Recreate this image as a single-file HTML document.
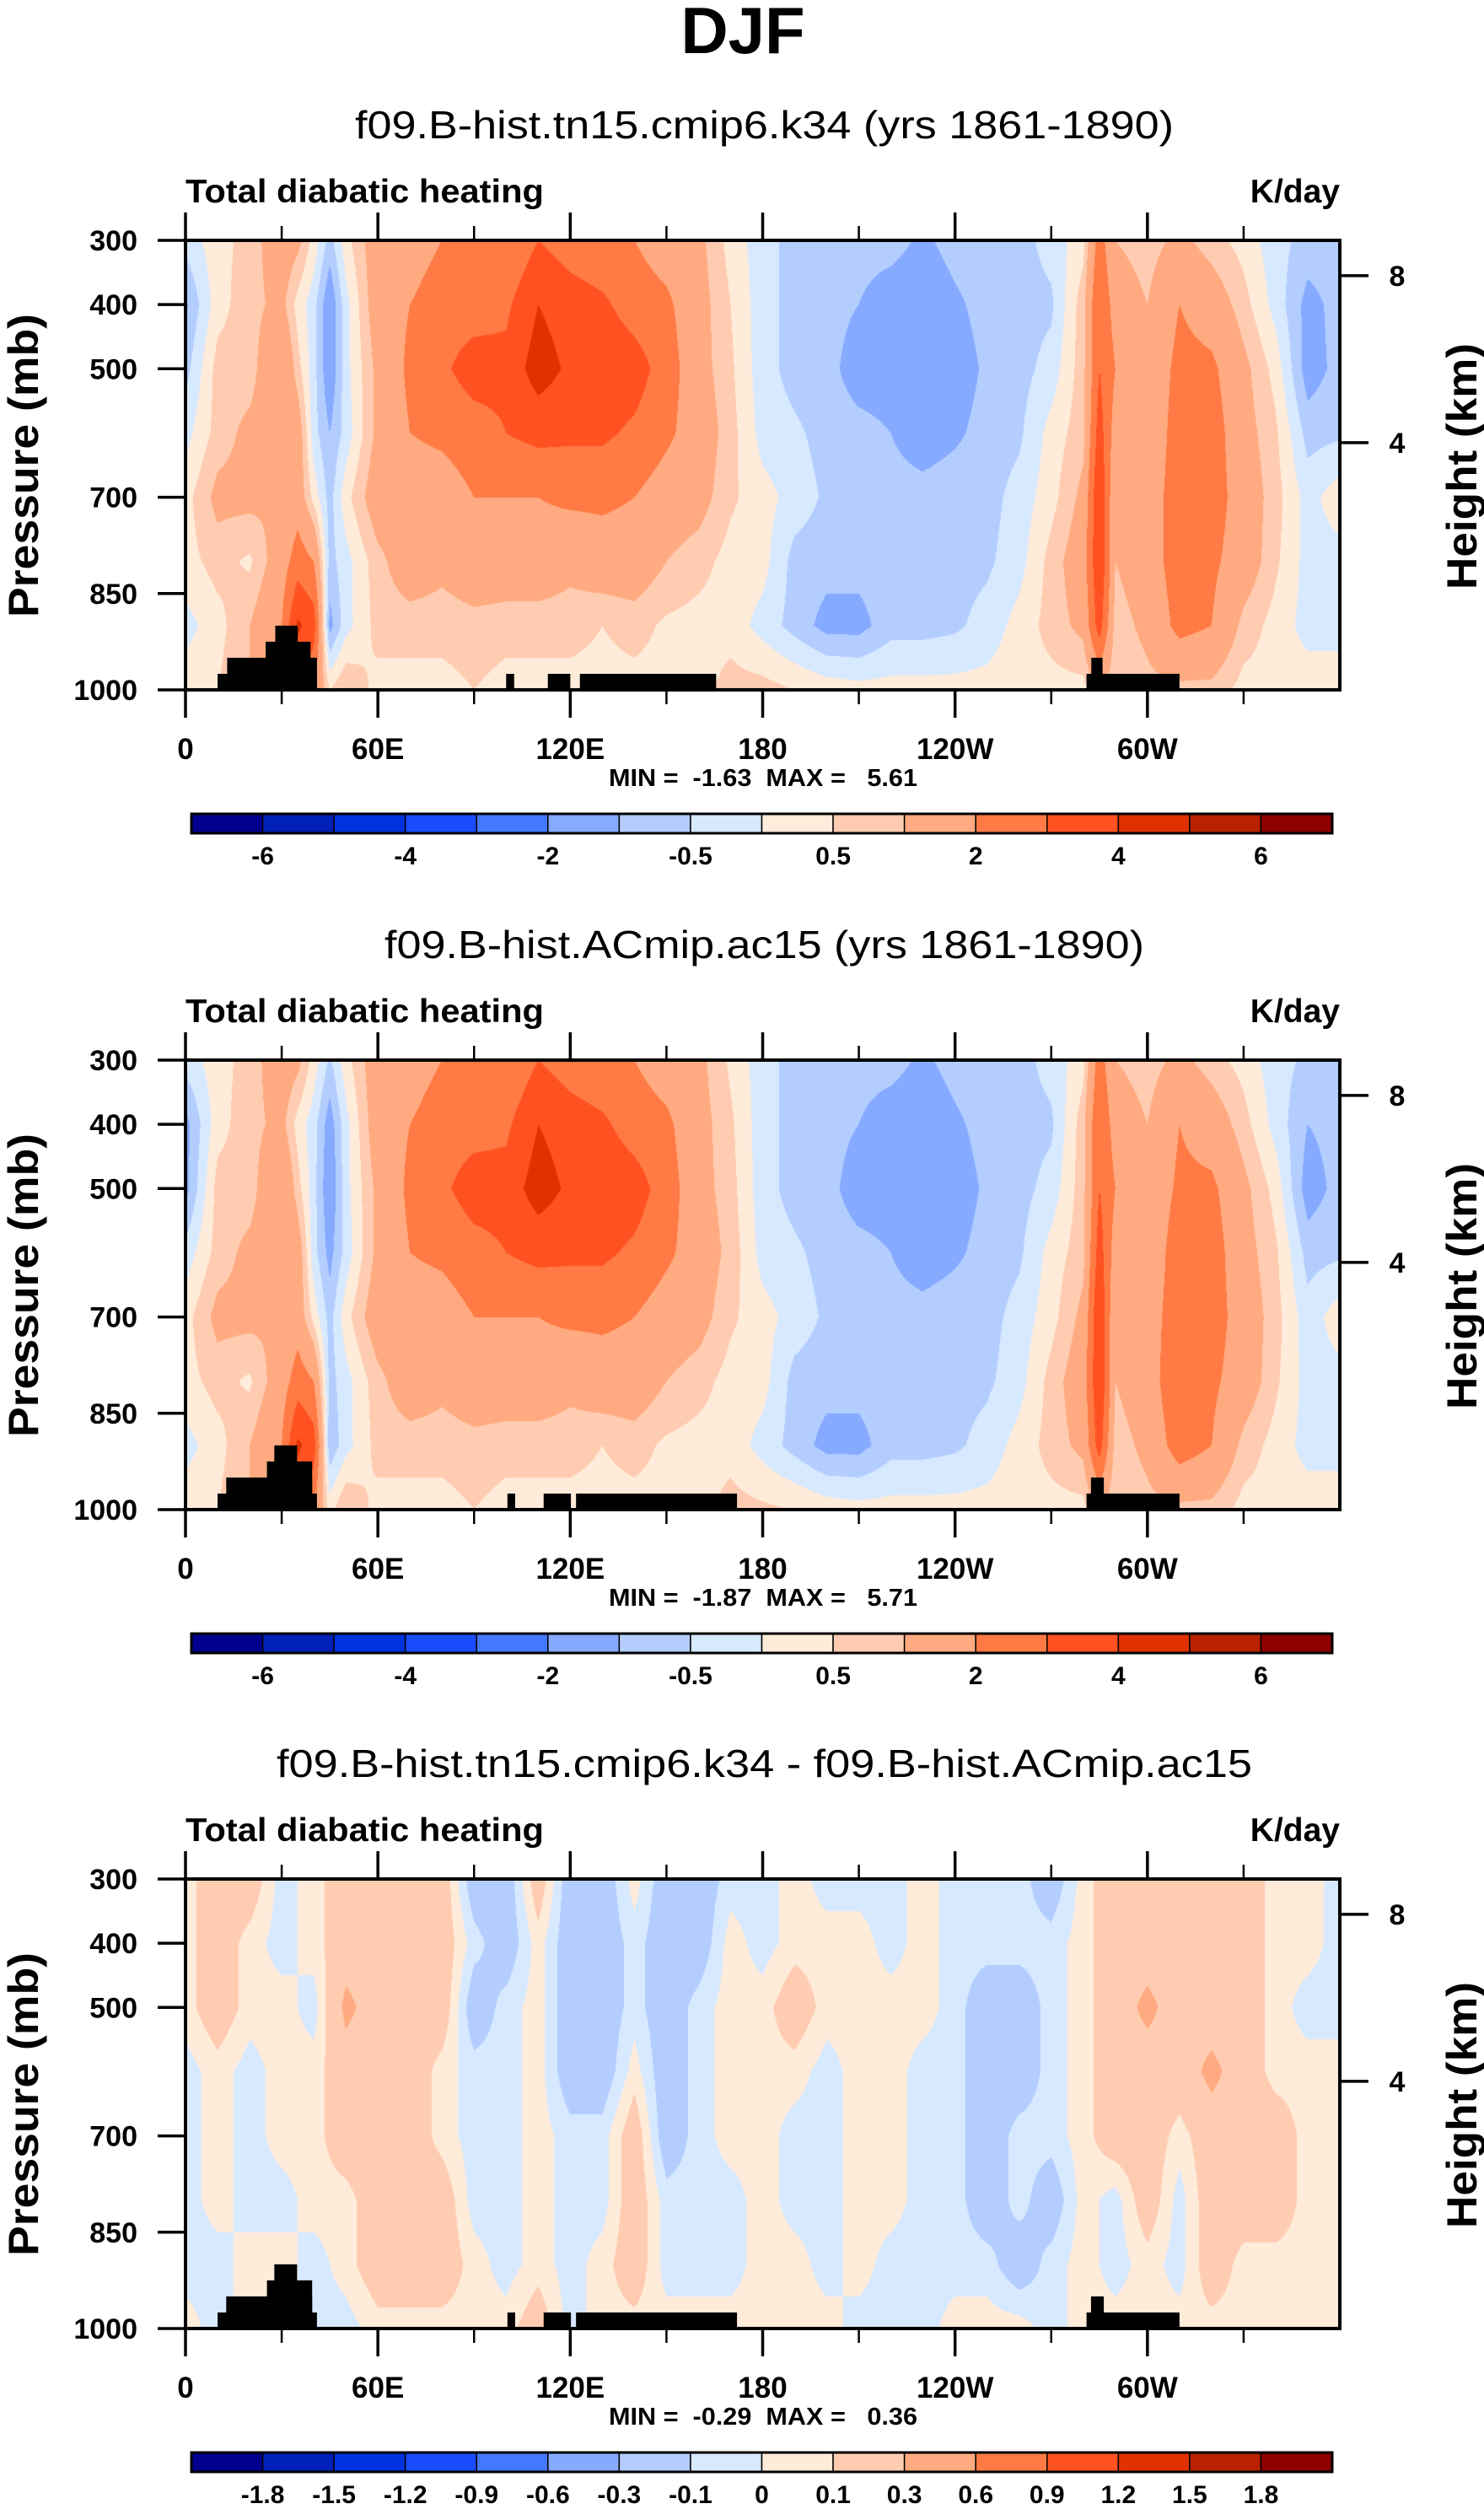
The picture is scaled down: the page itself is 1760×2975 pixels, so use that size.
<!DOCTYPE html>
<html><head><meta charset="utf-8">
<style>
html,body{margin:0;padding:0;background:#fff;}
#root{position:relative;width:1760px;height:2975px;overflow:hidden;background:#fff;}
canvas{position:absolute;}
svg{position:absolute;left:0;top:0;}
text{font-family:"Liberation Sans",Arial,sans-serif;fill:#000;}
</style></head>
<body>
<div id="root">
<canvas id="c0"></canvas>
<canvas id="c1"></canvas>
<canvas id="c2"></canvas>
<svg id="ov" width="1760" height="2975"></svg>
</div>
<script>
// ---------- data ----------
const presLevels = [300,400,500,600,700,800,900,1000];
const lons1 = [0,10,20,30,35,40,45,50,60,70,80,90,100,110,120,130,140,150,160,170,180,190,200,210,220,230,240,250,260,270,280,285,290,300,310,320,330,340,350,360];
const field1 = [
[-0.3,-1.1,-0.7,-0.2,0.3,0.3,-0.2,0.3],
[0.3,0.3,0.7,0.7,1.2,0.7,0.3,0.5],
[0.7,0.8,0.7,1.2,1.2,0.4,1.0,1.0],
[1.5,1.2,2.0,1.5,1.0,1.5,2.0,2.0],
[1.2,0.3,0.7,1.5,1.5,2.5,4.2,3.0],
[0.3,-0.3,-0.3,-0.3,0.3,2.0,3.5,2.0],
[-0.7,-1.5,-1.5,-1.0,-0.7,-0.7,-1.2,0.5],
[0.3,-0.2,-0.2,-0.3,0.3,-0.2,-0.2,1.0],
[1.5,1.5,1.2,1.2,1.5,0.8,0.7,0.3],
[1.5,2.0,2.2,2.0,1.5,1.5,0.7,0.3],
[2.0,2.5,2.8,2.2,1.5,1.2,0.7,0.3],
[2.2,2.5,3.5,2.5,2.0,1.5,0.8,0.5],
[2.0,2.8,3.3,3.0,2.0,1.5,0.7,0.3],
[3.0,4.0,4.5,3.3,2.0,1.5,0.7,0.3],
[2.5,3.5,3.8,3.2,2.2,1.2,0.7,0.3],
[2.2,3.2,3.8,3.2,2.2,1.5,0.5,0.3],
[2.0,2.5,3.5,2.8,2.0,1.5,0.7,0.3],
[1.5,2.2,2.5,2.2,1.5,1.0,0.4,0.3],
[1.2,1.3,1.3,1.5,1.3,0.7,0.3,0.3],
[0.3,0.5,0.6,0.7,0.6,0.3,0.3,0.7],
[-0.3,-0.3,-0.3,-0.2,0.2,0.2,-0.2,0.7],
[-0.7,-0.7,-0.7,-0.4,-0.2,-0.7,-0.7,0.5],
[-0.7,-0.8,-0.8,-0.7,-0.6,-0.8,-1.2,0.3],
[-0.8,-1.0,-1.3,-0.8,-0.7,-0.8,-1.2,0.2],
[-0.8,-1.3,-1.3,-1.0,-0.8,-0.7,-0.7,0.2],
[-1.1,-1.4,-1.5,-1.3,-0.8,-0.7,-0.7,0.2],
[-0.8,-1.1,-1.3,-1.1,-0.7,-0.7,-0.6,0.2],
[-0.7,-0.8,-0.9,-0.8,-0.7,-0.6,-0.3,0.2],
[-0.7,-0.7,-0.7,-0.6,-0.3,-0.2,0.2,0.3],
[-0.3,-0.6,-0.3,0.2,0.3,0.7,0.7,0.3],
[0.3,0.8,0.8,0.8,1.2,1.5,1.2,0.3],
[2.5,3.0,3.0,3.5,4.0,4.0,3.5,1.0],
[1.0,1.5,2.0,1.5,1.0,1.0,0.7,0.5],
[0.7,1.0,1.2,1.2,1.5,1.5,1.2,0.8],
[1.2,2.0,2.3,2.5,2.5,2.5,2.3,0.8],
[0.7,1.5,2.2,2.5,2.5,2.2,2.0,0.8],
[0.3,0.7,1.2,1.3,1.5,1.5,0.8,0.3],
[-0.3,-0.2,0.3,0.6,0.7,0.6,0.3,0.3],
[-0.7,-1.2,-1.3,-0.7,-0.2,-0.2,-0.2,0.3],
[-0.7,-0.8,-0.8,-0.6,0.3,-0.2,-0.2,0.3]
];
const lons2 = lons1;
const field2 = [
[-0.3,-1.2,-1.2,-0.3,0.3,0.3,-0.2,0.3],
[0.3,0.3,0.7,0.7,1.2,0.7,0.3,0.5],
[0.7,0.8,0.7,1.2,1.2,0.4,1.0,1.0],
[1.5,1.2,2.0,1.5,1.0,1.5,2.0,2.0],
[1.2,0.3,0.7,1.5,1.5,2.5,4.2,3.0],
[0.3,-0.3,-0.3,-0.3,0.3,2.0,3.5,2.0],
[-0.6,-1.3,-1.5,-1.2,-0.7,-0.7,-0.9,0.3],
[0.3,-0.2,-0.2,-0.3,0.3,-0.2,-0.2,1.0],
[1.5,1.5,1.2,1.2,1.5,0.8,0.7,0.3],
[1.5,2.0,2.2,2.0,1.5,1.5,0.7,0.3],
[2.0,2.5,2.8,2.2,1.5,1.2,0.7,0.3],
[2.2,2.6,3.5,2.6,2.0,1.5,0.8,0.5],
[2.0,2.8,3.4,3.0,2.0,1.5,0.7,0.3],
[3.0,4.0,4.5,3.3,2.0,1.5,0.7,0.3],
[2.5,3.5,3.8,3.2,2.2,1.2,0.7,0.3],
[2.2,3.2,3.8,3.2,2.2,1.5,0.5,0.3],
[2.0,2.5,3.5,2.8,2.0,1.5,0.7,0.3],
[1.5,2.2,2.5,2.2,1.5,1.0,0.4,0.3],
[1.2,1.3,1.3,1.5,1.3,0.7,0.3,0.3],
[0.4,0.6,0.7,0.8,0.6,0.3,0.3,0.7],
[-0.3,-0.3,-0.3,-0.2,0.2,0.2,-0.2,0.6],
[-0.7,-0.7,-0.7,-0.4,-0.2,-0.7,-0.7,0.5],
[-0.7,-0.8,-0.8,-0.7,-0.6,-0.8,-1.2,0.3],
[-0.8,-1.0,-1.3,-0.8,-0.7,-0.8,-1.2,0.2],
[-0.8,-1.3,-1.3,-1.0,-0.8,-0.7,-0.7,0.2],
[-1.1,-1.4,-1.5,-1.3,-0.8,-0.7,-0.7,0.2],
[-0.8,-1.1,-1.3,-1.1,-0.7,-0.7,-0.6,0.2],
[-0.7,-0.8,-0.9,-0.8,-0.7,-0.6,-0.3,0.2],
[-0.7,-0.7,-0.7,-0.6,-0.3,-0.2,0.2,0.3],
[-0.3,-0.6,-0.3,0.2,0.3,0.7,0.7,0.3],
[0.3,0.8,0.8,0.8,1.2,1.5,1.2,0.3],
[2.5,3.0,3.0,3.5,4.0,4.0,3.5,1.0],
[1.0,1.5,2.0,1.5,1.0,1.0,0.7,0.5],
[0.7,1.0,1.2,1.2,1.5,1.5,1.2,0.8],
[1.2,2.0,2.2,2.6,2.6,2.8,2.5,0.8],
[0.7,1.5,2.2,2.5,2.5,2.2,2.0,0.8],
[0.3,0.7,1.2,1.3,1.5,1.5,0.8,0.3],
[-0.3,-0.2,0.3,0.6,0.7,0.6,0.3,0.3],
[-0.6,-1.0,-1.3,-0.7,-0.3,-0.2,-0.2,0.3],
[-0.7,-0.8,-0.8,-0.6,0.3,-0.2,-0.2,0.3]
];
const lons3 = [0,10,20,30,40,50,60,70,80,90,100,110,120,130,140,150,160,170,180,190,200,210,220,230,240,250,260,270,280,290,300,310,320,330,340,350,360];
const field3 = [
[0.05,0.05,0.05,-0.05,-0.05,-0.05,-0.05,0.05],
[0.2,0.2,0.2,0.05,0.05,0.05,-0.05,-0.05],
[0.2,0.05,0.05,-0.05,-0.05,-0.05,0.05,0.05],
[-0.05,-0.05,0.05,0.05,0.05,-0.05,0.05,0.05],
[0.05,0.05,-0.05,0.05,0.05,0.05,-0.05,-0.05],
[0.2,0.2,0.35,0.2,0.2,0.05,0.05,-0.05],
[0.2,0.2,0.2,0.2,0.2,0.2,0.2,0.05],
[0.2,0.2,0.2,0.2,0.2,0.2,0.2,0.05],
[0.2,0.2,0.2,0.05,0.05,0.2,0.2,0.05],
[-0.2,-0.05,-0.2,-0.05,-0.05,-0.05,0.05,0.05],
[-0.2,-0.2,-0.05,-0.05,-0.05,-0.05,-0.05,0.05],
[0.2,0.05,0.05,0.05,0.05,0.05,0.05,0.2],
[-0.2,-0.2,-0.2,-0.2,-0.05,-0.05,-0.05,-0.05],
[-0.2,-0.2,-0.2,-0.2,-0.05,-0.05,0.05,0.05],
[0.05,-0.05,-0.05,0.05,0.2,0.2,0.2,0.05],
[-0.2,-0.2,-0.2,-0.2,-0.2,-0.05,-0.05,0.05],
[-0.2,-0.2,-0.05,-0.05,-0.05,-0.05,-0.05,0.05],
[-0.05,0.05,0.05,0.05,0.05,-0.05,-0.05,0.05],
[-0.05,-0.05,0.05,0.05,0.05,0.05,0.05,0.05],
[0.05,0.05,0.2,0.05,-0.05,-0.05,0.05,0.05],
[-0.05,0.05,0.05,-0.05,-0.05,-0.05,-0.05,0.05],
[-0.05,0.05,0.05,0.05,0.05,0.05,0.05,-0.05],
[-0.05,-0.05,0.05,0.05,0.05,0.05,-0.05,-0.05],
[0.05,0.05,0.05,-0.05,-0.05,-0.05,-0.05,-0.05],
[-0.05,-0.05,-0.05,-0.05,-0.05,-0.05,-0.05,0.05],
[-0.05,-0.05,-0.2,-0.2,-0.2,-0.2,-0.05,0.05],
[-0.05,-0.05,-0.2,-0.2,-0.05,-0.05,-0.2,0.05],
[-0.2,-0.05,-0.05,-0.05,-0.05,-0.2,-0.05,-0.05],
[0.05,0.05,0.05,0.05,0.05,0.05,0.05,0.05],
[0.2,0.2,0.2,0.2,0.2,-0.05,-0.05,0.05],
[0.2,0.2,0.35,0.2,0.2,0.2,0.05,0.05],
[0.2,0.2,0.2,0.2,0.05,-0.05,-0.05,0.05],
[0.2,0.2,0.2,0.35,0.2,0.2,0.2,0.05],
[0.2,0.2,0.2,0.2,0.2,0.2,0.05,0.05],
[0.05,0.05,0.05,0.05,0.2,0.2,0.05,0.05],
[0.05,0.05,-0.05,0.05,0.05,0.05,0.05,0.05],
[-0.05,-0.05,-0.05,0.05,0.05,0.05,0.05,0.05]
];
const levelsAbs = [-6,-5,-4,-3,-2,-1,-0.5,0,0.5,1,2,3,4,5,6];
const labelsAbs = ["-6","-4","-2","-0.5","0.5","2","4","6"];
const labelIdxAbs = [0,2,4,6,8,10,12,14];
const levelsDiff = [-1.8,-1.5,-1.2,-0.9,-0.6,-0.3,-0.1,0,0.1,0.3,0.6,0.9,1.2,1.5,1.8];
const labelsDiff = ["-1.8","-1.5","-1.2","-0.9","-0.6","-0.3","-0.1","0","0.1","0.3","0.6","0.9","1.2","1.5","1.8"];
const labelIdxDiff = [0,1,2,3,4,5,6,7,8,9,10,11,12,13,14];
const colors = ['#00008C','#0020B8','#0032E0','#1A4CFF','#4478FF','#85AAFF','#B3CDFF','#D7E9FF','#FFEBD9','#FFCCB2','#FFAA80','#FF7A44','#FF5220','#E03200','#B82200','#8C0000'];
const terrain1 = [[10,41,975],[13,41,950],[25,39,925],[28,35,900],[100,102.5,975],[113,120,975],[123,165.5,975],[281,310,975],[282.5,286,950]];
const terrain2 = [[10,41,975],[12.7,39.5,950],[25.4,39.5,925],[27.7,34.8,900],[100.4,102.8,975],[111.7,120.2,975],[121.8,172,975],[281,310,975],[282.4,286.4,950]];
const xTickVals = [0,60,120,180,240,300];
const xTickLabels = ["0","60E","120E","180","120W","60W"];
const xMinor = [30,90,150,210,270,330];
const yTickVals = [300,400,500,700,850,1000];
const hTickVals = [8,4];
const hTickP = [355,615];
const titles = ["f09.B-hist.tn15.cmip6.k34 (yrs 1861-1890)","f09.B-hist.ACmip.ac15 (yrs 1861-1890)","f09.B-hist.tn15.cmip6.k34 - f09.B-hist.ACmip.ac15"];
const titleLen = [971,901,1157];
const minmax = ["MIN =  -1.63  MAX =   5.61","MIN =  -1.87  MAX =   5.71","MIN =  -0.29  MAX =   0.36"];

// ---------- layout ----------
const L=220, R=1589, W=R-L, H=533;
const tops=[285,1257,2228];
const NS='http://www.w3.org/2000/svg';
const ov=document.getElementById('ov');
function xs(lon){return L+lon/360*W;}
function ys(p,top){return top+(p-300)/700*H;}
function mk(tag,attrs,parent){const e=document.createElementNS(NS,tag);for(const k in attrs)e.setAttribute(k,attrs[k]);(parent||ov).appendChild(e);return e;}
function hex(c){return [parseInt(c.slice(1,3),16),parseInt(c.slice(3,5),16),parseInt(c.slice(5,7),16)];}
const rgb=colors.map(hex);

function drawField(cid,top,lons,field,levels){
  const cv=document.getElementById(cid);
  cv.width=W;cv.height=H;cv.style.left=L+'px';cv.style.top=top+'px';
  const ctx=cv.getContext('2d');const img=ctx.createImageData(W,H);const d=img.data;
  const ci=[],cf=[];
  for(let x=0;x<W;x++){const lon=(x+0.5)/W*360;let i=0;while(i<lons.length-2&&lons[i+1]<lon)i++;ci.push(i);cf.push((lon-lons[i])/(lons[i+1]-lons[i]));}
  const ri=[],rf=[];
  for(let y=0;y<H;y++){const p=300+(y+0.5)/H*700;let j=0;while(j<presLevels.length-2&&presLevels[j+1]<p)j++;ri.push(j);rf.push((p-presLevels[j])/(presLevels[j+1]-presLevels[j]));}
  for(let y=0;y<H;y++){const j=ri[y],fy=rf[y];
    for(let x=0;x<W;x++){const i=ci[x],fx=cf[x];
      const a=field[i][j]*(1-fy)+field[i][j+1]*fy;const b=field[i+1][j]*(1-fy)+field[i+1][j+1]*fy;
      const v=a*(1-fx)+b*fx;let k=0;while(k<levels.length&&v>=levels[k])k++;
      const c=rgb[k];const o=(y*W+x)*4;d[o]=c[0];d[o+1]=c[1];d[o+2]=c[2];d[o+3]=255;}}
  ctx.putImageData(img,0,0);
}

function txt(s,attrs,name){const t=mk('text',attrs);t.textContent=s;return t;}

const dt=txt('DJF',{x:881,y:63,'text-anchor':'middle','font-size':78,'font-weight':'bold'},'figure-title');

for(let p=0;p<3;p++){
  const top=tops[p],bot=top+H;
  drawField('c'+p,top,p===0?lons1:(p===1?lons2:lons3),p===0?field1:(p===1?field2:field3),p===2?levelsDiff:levelsAbs);
  txt(titles[p],{x:(L+R)/2+2,y:top-121,'text-anchor':'middle','font-size':46,textLength:titleLen[p],lengthAdjust:'spacingAndGlyphs'},'panel-title');
  txt('Total diabatic heating',{x:L,y:top-45,'font-size':39,'font-weight':'bold',textLength:425,lengthAdjust:'spacingAndGlyphs'},'variable-label');
  txt('K/day',{x:R,y:top-45,'text-anchor':'end','font-size':39,'font-weight':'bold'},'units-label');
  const ter=p===0?terrain1:terrain2;
  for(const t of ter){const r=mk('rect',{x:xs(t[0]),y:ys(t[2],top),width:xs(t[1])-xs(t[0]),height:bot-ys(t[2],top),fill:'#000'});
    
    }
  const fr=mk('rect',{x:L,y:top,width:W,height:H,fill:'none',stroke:'#000','stroke-width':4});
  
  
  xTickVals.forEach((v,i)=>{const x=xs(v);
    mk('line',{x1:x,x2:x,y1:top-33,y2:top,stroke:'#000','stroke-width':3.5});
    mk('line',{x1:x,x2:x,y1:bot,y2:bot+33,stroke:'#000','stroke-width':3.5});
    txt(xTickLabels[i],{x:x,y:bot+82,'text-anchor':'middle','font-size':35,'font-weight':'bold'},'x-tick-label');});
  xMinor.forEach(v=>{const x=xs(v);
    mk('line',{x1:x,x2:x,y1:top-17,y2:top,stroke:'#000','stroke-width':2.5});
    mk('line',{x1:x,x2:x,y1:bot,y2:bot+17,stroke:'#000','stroke-width':2.5});});
  yTickVals.forEach(v=>{const y=ys(v,top);
    mk('line',{x1:L-33,x2:L,y1:y,y2:y,stroke:'#000','stroke-width':3.5});
    txt(String(v),{x:163,y:y+12,'text-anchor':'end','font-size':34,'font-weight':'bold'},'y-tick-label');});
  hTickVals.forEach((v,i)=>{const y=ys(hTickP[i],top);
    mk('line',{x1:R,x2:R+34,y1:y,y2:y,stroke:'#000','stroke-width':3.5});
    txt(String(v),{x:1657,y:y+12,'text-anchor':'middle','font-size':34,'font-weight':'bold'},'height-tick-label');});
  txt('Pressure (mb)',{x:0,y:0,'text-anchor':'middle','font-size':50,'font-weight':'bold',transform:`translate(45,${top+267}) rotate(-90)`,textLength:360,lengthAdjust:'spacingAndGlyphs'},'y-axis-title');
  txt('Height (km)',{x:0,y:0,'text-anchor':'middle','font-size':50,'font-weight':'bold',transform:`translate(1751,${top+268}) rotate(-90)`,textLength:292,lengthAdjust:'spacingAndGlyphs'},'right-axis-title');
  txt(minmax[p],{x:905,y:bot+114,'text-anchor':'middle','font-size':29,'font-weight':'bold',textLength:366,lengthAdjust:'spacingAndGlyphs',style:'white-space:pre'},'min-max-label');
  const cbL=227,cbR=1580,cbT=bot+147,cbB=bot+170,bw=(cbR-cbL)/16;
  colors.forEach((c,i)=>{const r=mk('rect',{x:cbL+i*bw,y:cbT,width:bw,height:cbB-cbT,fill:c,stroke:'#000','stroke-width':1.5});
    
    });
  mk('rect',{x:cbL,y:cbT,width:cbR-cbL,height:cbB-cbT,fill:'none',stroke:'#000','stroke-width':3});
  const lab=p===2?labelsDiff:labelsAbs, idx=p===2?labelIdxDiff:labelIdxAbs;
  lab.forEach((s,i)=>{txt(s,{x:cbL+(idx[i]+1)*bw,y:bot+207,'text-anchor':'middle','font-size':30,'font-weight':'bold'},'colorbar-label');});
}
</script>
</body></html>
